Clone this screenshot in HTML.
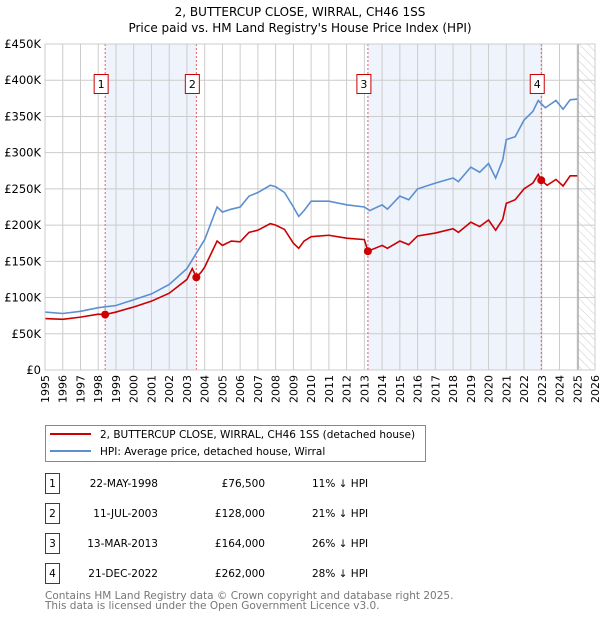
<!DOCTYPE html>
<html><head><meta charset="utf-8"><style>
body{margin:0;background:#fff;font-family:"Liberation Sans","DejaVu Sans",sans-serif;}
svg text{font-family:"DejaVu Sans","Liberation Sans",sans-serif;}
</style></head><body>
<svg id="c" width="600" height="620" xmlns="http://www.w3.org/2000/svg">
<defs><pattern id="hatch" width="6" height="6" patternUnits="userSpaceOnUse" patternTransform="rotate(-45)"><line x1="0" y1="0" x2="0" y2="6" stroke="#ccc" stroke-width="1"/></pattern></defs>
<text x="300" y="16" text-anchor="middle" font-size="12" fill="#000">2, BUTTERCUP CLOSE, WIRRAL, CH46 1SS</text>
<text x="300" y="32" text-anchor="middle" font-size="12" fill="#000">Price paid vs. HM Land Registry's House Price Index (HPI)</text>
<g id="plot"></g>
<g>
<rect x="45.5" y="425.5" width="380" height="36" fill="#fff" stroke="#888"/>
<line x1="50" y1="434" x2="91" y2="434" stroke="#cc0000" stroke-width="2"/>
<text x="100" y="438" font-size="10.5">2, BUTTERCUP CLOSE, WIRRAL, CH46 1SS (detached house)</text>
<line x1="50" y1="451" x2="91" y2="451" stroke="#5b8fd0" stroke-width="2"/>
<text x="100" y="455" font-size="10.5">HPI: Average price, detached house, Wirral</text>
</g>
<g id="tbl" font-size="10.5"></g>
<text x="45" y="599" font-size="10.5" fill="#777">Contains HM Land Registry data © Crown copyright and database right 2025.</text>
<text x="45" y="609" font-size="10.5" fill="#777">This data is licensed under the Open Government Licence v3.0.</text>
</svg>
<script>
const hpiYears=[1995,1996,1997,1998,1999,2000,2001,2002,2003,2003.5,2004,2004.7,2005,2005.5,2006,2006.5,2007,2007.7,2008,2008.5,2009,2009.3,2009.6,2010,2011,2012,2013,2013.3,2014,2014.3,2015,2015.5,2016,2017,2018,2018.3,2019,2019.5,2020,2020.4,2020.8,2021,2021.5,2022,2022.5,2022.8,2023.2,2023.8,2024.2,2024.6,2025];
const hpiValues=[80,78,81,86,89,97,105,118,140,160,180,225,218,222,225,240,245,255,253,245,225,212,220,233,233,228,225,220,228,222,240,235,250,258,265,260,280,273,285,265,290,318,322,345,357,372,362,372,360,373,374];
const redYears=[1995,1996,1997,1998,1998.39,1999,2000,2001,2002,2003,2003.3,2003.53,2003.8,2004,2004.7,2005,2005.5,2006,2006.5,2007,2007.7,2008,2008.5,2009,2009.3,2009.6,2010,2011,2012,2013,2013.2,2014,2014.3,2015,2015.5,2016,2017,2018,2018.3,2019,2019.5,2020,2020.4,2020.8,2021,2021.5,2022,2022.5,2022.8,2022.97,2023.3,2023.8,2024.2,2024.6,2025];
const redValues=[71,70,73,77,76.5,80,87,95,106,125,140,128,135,142,178,172,178,177,190,193,202,200,194,175,168,178,184,186,182,180,164,172,168,178,173,185,189,195,190,204,198,207,193,208,230,235,250,258,270,262,255,263,254,268,268];
const saleDates=[1998.39,2003.53,2013.2,2022.97];
const salePrices=[76.5,128,164,262];
const saleLabels=["22-MAY-1998","11-JUL-2003","13-MAR-2013","21-DEC-2022"];
const salePriceText=["£76,500","£128,000","£164,000","£262,000"];
const saleDiff=["11% ↓ HPI","21% ↓ HPI","26% ↓ HPI","28% ↓ HPI"];
const yTicks=[0,50,100,150,200,250,300,350,400,450];
const yTickLabels=["£0","£50K","£100K","£150K","£200K","£250K","£300K","£350K","£400K","£450K"];
const xTicks=[1995,1996,1997,1998,1999,2000,2001,2002,2003,2004,2005,2006,2007,2008,2009,2010,2011,2012,2013,2014,2015,2016,2017,2018,2019,2020,2021,2022,2023,2024,2025,2026];
const X0=45,X1=595,Y0=370,Y1=44;
const xs=y=>X0+(y-1995)/(2026-1995)*(X1-X0);
const ys=v=>Y0-v/450*(Y0-Y1);
const NS="http://www.w3.org/2000/svg";
const P=document.getElementById('plot');
function mk(t,a,p){const e=document.createElementNS(NS,t);for(const k in a)e.setAttribute(k,a[k]);(p||P).appendChild(e);return e;}
// shading
for(const [a,b] of [[0,1],[2,3]]){
  const r=mk('rect',{x:xs(saleDates[a]),y:Y1,width:xs(saleDates[b])-xs(saleDates[a]),height:Y0-Y1,fill:'#eef3fc'});
  
  
}
const h=mk('rect',{x:xs(2025.05),y:Y1,width:X1-xs(2025.05),height:Y0-Y1,fill:'url(#hatch)'});


// grid
xTicks.forEach(t=>{
  const l=mk('line',{x1:xs(t),x2:xs(t),y1:Y1,y2:Y0,stroke:'#ccc','stroke-width':1});
  
  
  const tx=mk('text',{x:0,y:0,'font-size':11,'text-anchor':'end',transform:`translate(${xs(t)+4},${Y0+5}) rotate(-90)`});
  tx.textContent=t;
  
  
});
yTicks.forEach((t,i)=>{
  const l=mk('line',{x1:X0,x2:X1,y1:ys(t),y2:ys(t),stroke:'#ccc','stroke-width':1});
  
  
  const tx=mk('text',{x:X0-4,y:ys(t)+4,'font-size':11.5,'text-anchor':'end'});
  tx.textContent=yTickLabels[i];
  
  
});
const vl=mk('line',{x1:xs(2025.05),x2:xs(2025.05),y1:Y1,y2:Y0,stroke:'#999','stroke-width':1});


// sale lines
saleDates.forEach((d,i)=>{
  const l=mk('line',{x1:xs(d),x2:xs(d),y1:Y1,y2:Y0,stroke:'#e06060','stroke-width':1,'stroke-dasharray':'2,2'});
  
  
});
// series
const hp=mk('polyline',{points:hpiYears.map((y,i)=>xs(y)+','+ys(hpiValues[i])).join(' '),fill:'none',stroke:'#5b8fd0','stroke-width':1.6});


const rp=mk('polyline',{points:redYears.map((y,i)=>xs(y)+','+ys(redValues[i])).join(' '),fill:'none',stroke:'#cc0000','stroke-width':1.6});


saleDates.forEach((d,i)=>{
  const c=mk('circle',{cx:xs(d),cy:ys(salePrices[i]),r:4,fill:'#cc0000'});
  
  
  const g=mk('g',{});
  
  
  mk('rect',{x:xs(d)-11,y:74.5,width:14,height:19,fill:'#fff',stroke:'#cc0000'},g);
  const t=mk('text',{x:xs(d)-4,y:88,'font-size':11,'text-anchor':'middle'},g);
  t.textContent=i+1;
});
mk('rect',{x:X0,y:Y1,width:X1-X0,height:Y0-Y1,fill:'none',stroke:'#ccc'});
// table
const T=document.getElementById('tbl');
saleDates.forEach((d,i)=>{
  const cy=483+i*30;
  const g=mk('g',{},T);
  
  
  mk('rect',{x:45.5,y:cy-9.5,width:14,height:20,fill:'#fff',stroke:'#cc0000'},g);
  const n=mk('text',{x:52.5,y:cy+4,'text-anchor':'middle'},g);n.textContent=i+1;
  const a=mk('text',{x:158,y:cy+4,'text-anchor':'end'},g);a.textContent=saleLabels[i];
  const b=mk('text',{x:265,y:cy+4,'text-anchor':'end'},g);b.textContent=salePriceText[i];
  const c=mk('text',{x:312,y:cy+4},g);c.textContent=saleDiff[i];
});
</script>
</body></html>
